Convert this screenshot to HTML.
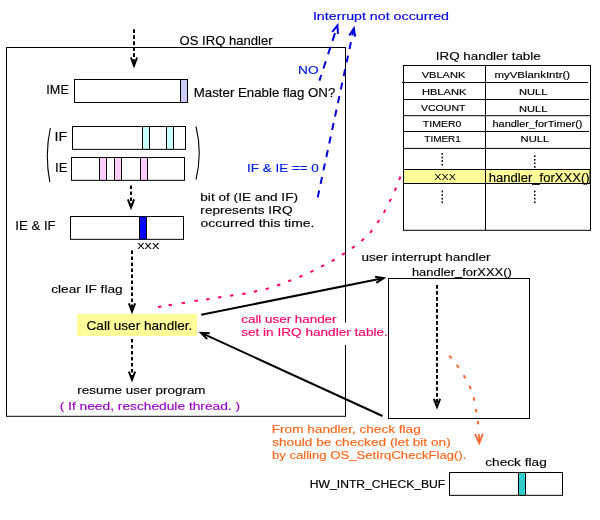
<!DOCTYPE html>
<html lang="en">
<head>
<meta charset="utf-8">
<title>OS IRQ handler</title>
<style>
html,body{margin:0;padding:0;background:#fff;}
body{width:600px;height:520px;overflow:hidden;}
svg{display:block;}
text{font-family:"Liberation Sans",sans-serif;font-size:12.5px;color:#000;fill:currentColor;stroke:currentColor;stroke-width:.15px;}
.thin{stroke:none;}
.blue{color:#0000e0;}
.blue2{color:#0020e0;}
.pink{color:#ff0066;}
.org{color:#ff6619;}
.pur{color:#9900c4;}
.box{fill:#fff;stroke:#000;stroke-width:1;}
.ln{stroke:#000;stroke-width:1;fill:none;}
.par{stroke:#000;stroke-width:1.1;fill:none;}
.dash{stroke:#000;stroke-width:2;fill:none;stroke-dasharray:3.6 2.4;}
.hd{stroke:#000;stroke-width:2;fill:none;stroke-linejoin:miter;stroke-miterlimit:10;}
.sol{stroke:#000;stroke-width:2;fill:none;}
.bdash{stroke:#0000d8;stroke-width:2;fill:none;}
.bhd{stroke:#0000d8;stroke-width:2;fill:none;stroke-linejoin:miter;stroke-miterlimit:10;}
.pdot{stroke:#ff0066;stroke-width:2;fill:none;}
.odot{stroke:#ff6633;stroke-width:2;fill:none;}
.ohd{stroke:#ff6633;stroke-width:1.8;fill:none;stroke-linejoin:miter;stroke-miterlimit:10;}
</style>
</head>
<body>
<svg width="600" height="520" viewBox="0 0 600 520">
<rect width="600" height="520" fill="#fff"/>

<!-- OS IRQ handler frame -->
<rect class="box" x="6.5" y="47.5" width="339" height="368.8"/>
<text style="font-size:12.2px" x="179.62" y="45" textLength="92.95" lengthAdjust="spacingAndGlyphs">OS IRQ handler</text>
<!-- entry arrow -->
<line class="dash" x1="134" y1="29.3" x2="134" y2="64.8"/>
<polyline class="hd" points="130.89,57.50 134,65.61 137.11,57.50"/>
<!-- IME -->
<text style="font-size:12.2px" x="46.34" y="94" textLength="22.51" lengthAdjust="spacingAndGlyphs">IME</text>
<rect class="box" x="74.5" y="79.5" width="113" height="23"/>
<rect x="180.5" y="79.5" width="7" height="23" fill="#ccccff" stroke="#000"/>
<text style="font-size:12.2px" x="193.82" y="97" textLength="141.51" lengthAdjust="spacingAndGlyphs">Master Enable flag ON?</text>
<!-- IF / IE -->
<path class="par" d="M50.3,128 Q44.6,155 49.8,182"/>
<path class="par" d="M196,126.5 Q202.5,153 196,179.5"/>
<text style="font-size:12.2px" x="54.52" y="141" textLength="12.87" lengthAdjust="spacingAndGlyphs">IF</text>
<rect class="box" x="72.5" y="126.5" width="113" height="22.85"/>
<rect x="142.5" y="126.5" width="7" height="22.85" fill="#ccffff" stroke="#000"/>
<rect x="166.5" y="126.5" width="7" height="22.85" fill="#ccffff" stroke="#000"/>
<text style="font-size:12.2px" x="55" y="172" textLength="12.39" lengthAdjust="spacingAndGlyphs">IE</text>
<rect class="box" x="71.5" y="157.5" width="113" height="22.85"/>
<rect x="99.5" y="157.5" width="7" height="22.85" fill="#ffccff" stroke="#000"/>
<rect x="114.5" y="157.5" width="7" height="22.85" fill="#ffccff" stroke="#000"/>
<rect x="140.5" y="157.5" width="7" height="22.85" fill="#ffccff" stroke="#000"/>
<line class="dash" x1="131" y1="185.5" x2="131" y2="206.6"/>
<polyline class="hd" points="127.89,199.30 131,207.41 134.11,199.30"/>
<!-- IE & IF -->
<text style="font-size:12.2px" x="15.39" y="230" textLength="40.3" lengthAdjust="spacingAndGlyphs">IE &amp; IF</text>
<rect class="box" x="70.5" y="216.5" width="113" height="22.85"/>
<rect x="139.5" y="216.5" width="7" height="22.85" fill="#0000ff" stroke="#000"/>
<text class="thin" style="font-size:10.5px" x="137.22" y="249" textLength="22.05" lengthAdjust="spacingAndGlyphs">xxx</text>
<text style="font-size:11.6px" x="200.27" y="201" textLength="97.74" lengthAdjust="spacingAndGlyphs">bit of (IE and IF)</text>
<text style="font-size:11.6px" x="200.38" y="214" textLength="92.11" lengthAdjust="spacingAndGlyphs">represents IRQ</text>
<text style="font-size:11.6px" x="200.63" y="227" textLength="113.77" lengthAdjust="spacingAndGlyphs">occurred this time.</text>
<line class="dash" x1="132" y1="250.5" x2="132" y2="310.7"/>
<polyline class="hd" points="128.89,303.40 132,311.51 135.11,303.40"/>
<text style="font-size:11.6px" x="51.24" y="293" textLength="71.43" lengthAdjust="spacingAndGlyphs">clear IF flag</text>
<!-- Call user handler -->
<rect x="77" y="314" width="120" height="22" fill="#ffff99"/>
<text style="font-size:12.2px" x="86.55" y="330" textLength="105.85" lengthAdjust="spacingAndGlyphs">Call user handler.</text>
<line class="dash" x1="132" y1="339" x2="132" y2="379"/>
<polyline class="hd" points="128.89,371.70 132,379.81 135.11,371.70"/>
<text style="font-size:11.6px" x="77.39" y="394" textLength="128.14" lengthAdjust="spacingAndGlyphs">resume user program</text>
<text class="pur" style="font-size:11.6px" x="59.71" y="410" textLength="180.42" lengthAdjust="spacingAndGlyphs">( If need, reschedule thread. )</text>
<!-- blue -->
<text class="blue" style="font-size:11.6px" x="312.91" y="20" textLength="136.09" lengthAdjust="spacingAndGlyphs">Interrupt not occurred</text>
<text class="blue2" style="font-size:11.6px" x="298" y="74" textLength="20.52" lengthAdjust="spacingAndGlyphs">NO</text>
<text class="blue2" style="font-size:11.6px" x="247" y="172" textLength="71.84" lengthAdjust="spacingAndGlyphs">IF &amp; IE == 0</text>
<line class="bdash" stroke-dasharray="5.9 6.9 7.6 7.4 7.7 6.3 8.2 100" x1="319.4" y1="80.6" x2="338.2" y2="23.4"/>
<polyline class="bhd" points="337.93,33.84 337.52,25.48 332.23,31.96"/>
<line class="bdash" stroke-dasharray="7 6.8" x1="317.7" y1="197.4" x2="354.3" y2="26.3"/>
<polyline class="bhd" points="355.14,36.71 353.84,28.44 349.28,35.45"/>
<!-- table -->
<text style="font-size:11.6px" x="435.78" y="60" textLength="104.98" lengthAdjust="spacingAndGlyphs">IRQ handler table</text>
<rect class="box" x="403.5" y="65.5" width="187" height="164.8"/>
<line class="ln" x1="485.5" y1="65.5" x2="485.5" y2="230"/>
<line class="ln" x1="402" y1="82.5" x2="588" y2="82.5"/>
<line class="ln" x1="403.5" y1="99.5" x2="589" y2="99.5"/>
<line class="ln" x1="403.5" y1="115.7" x2="590" y2="115.7"/>
<line class="ln" x1="403.5" y1="131.5" x2="589" y2="131.5"/>
<line class="ln" x1="403.5" y1="148.4" x2="590" y2="148.4"/>
<rect x="403.5" y="169.5" width="186.5" height="14" fill="#ffff99" stroke="#000" stroke-width="1"/>
<line class="ln" x1="485.5" y1="169.5" x2="485.5" y2="183.5"/>
<text style="font-size:9px" x="421.68" y="78" textLength="43.72" lengthAdjust="spacingAndGlyphs">VBLANK</text>
<text style="font-size:9px" x="494.54" y="78" textLength="75.51" lengthAdjust="spacingAndGlyphs">myVBlankIntr()</text>
<text style="font-size:9px" x="421.9" y="95" textLength="44.53" lengthAdjust="spacingAndGlyphs">HBLANK</text>
<text style="font-size:9px" x="518.92" y="95" textLength="28.42" lengthAdjust="spacingAndGlyphs">NULL</text>
<text style="font-size:9px" x="420.98" y="111" textLength="44.47" lengthAdjust="spacingAndGlyphs">VCOUNT</text>
<text style="font-size:9px" x="518.92" y="112" textLength="28.42" lengthAdjust="spacingAndGlyphs">NULL</text>
<text style="font-size:9px" x="422.8" y="127" textLength="38.54" lengthAdjust="spacingAndGlyphs">TIMER0</text>
<text style="font-size:9px" x="492.55" y="127" textLength="89.9" lengthAdjust="spacingAndGlyphs">handler_forTimer()</text>
<text style="font-size:9px" x="424.3" y="142" textLength="36.59" lengthAdjust="spacingAndGlyphs">TIMER1</text>
<text style="font-size:9px" x="520.54" y="142" textLength="28.7" lengthAdjust="spacingAndGlyphs">NULL</text>
<text class="thin" style="font-size:9px" x="434.17" y="180" textLength="21.73" lengthAdjust="spacingAndGlyphs">XXX</text>
<text style="font-size:12.2px" x="488.86" y="182" textLength="100.76" lengthAdjust="spacingAndGlyphs">handler_forXXX()</text>
<g fill="#000">
<rect x="441.5" y="153" width="1.5" height="1.7"/>
<rect x="441.5" y="156.6" width="1.5" height="1.7"/>
<rect x="441.5" y="160.2" width="1.5" height="1.7"/>
<rect x="441.5" y="163.8" width="1.5" height="1.7"/>
<rect x="534" y="155.3" width="1.5" height="1.7"/>
<rect x="534" y="158.9" width="1.5" height="1.7"/>
<rect x="534" y="162.5" width="1.5" height="1.7"/>
<rect x="534" y="166.1" width="1.5" height="1.7"/>
<rect x="441.5" y="190.6" width="1.5" height="1.7"/>
<rect x="441.5" y="194.2" width="1.5" height="1.7"/>
<rect x="441.5" y="197.8" width="1.5" height="1.7"/>
<rect x="441.5" y="201.4" width="1.5" height="1.7"/>
<rect x="534" y="190.6" width="1.5" height="1.7"/>
<rect x="534" y="194.2" width="1.5" height="1.7"/>
<rect x="534" y="197.8" width="1.5" height="1.7"/>
<rect x="534" y="201.4" width="1.5" height="1.7"/>
</g>
<!-- pink dotted curve -->
<line class="pdot" x1="400.44" y1="176.72" x2="399.16" y2="179.88"/>
<line class="pdot" x1="396.08" y1="187.64" x2="394.72" y2="190.76"/>
<line class="pdot" x1="390.95" y1="198.87" x2="389.45" y2="201.93"/>
<line class="pdot" x1="385.44" y1="209.82" x2="383.76" y2="212.78"/>
<line class="pdot" x1="379.24" y1="220.08" x2="377.36" y2="222.92"/>
<line class="pdot" x1="372.3" y1="230.21" x2="370.1" y2="232.79"/>
<line class="pdot" x1="363.97" y1="238.68" x2="361.43" y2="240.92"/>
<line class="pdot" x1="354.67" y1="246.29" x2="351.93" y2="248.31"/>
<line class="pdot" x1="344.92" y1="253.07" x2="342.08" y2="254.93"/>
<line class="pdot" x1="334.68" y1="259.56" x2="331.72" y2="261.24"/>
<line class="pdot" x1="324.11" y1="265.02" x2="321.09" y2="266.58"/>
<line class="pdot" x1="313.53" y1="270.56" x2="310.47" y2="272.04"/>
<line class="pdot" x1="302.56" y1="275.63" x2="299.44" y2="276.97"/>
<line class="pdot" x1="291.28" y1="280.18" x2="288.12" y2="281.42"/>
<line class="pdot" x1="280.3" y1="284.44" x2="277.1" y2="285.56"/>
<line class="pdot" x1="268.84" y1="288.25" x2="265.56" y2="289.15"/>
<line class="pdot" x1="257.16" y1="290.94" x2="253.84" y2="291.66"/>
<line class="pdot" x1="245.57" y1="293.4" x2="242.23" y2="294"/>
<line class="pdot" x1="233.38" y1="295.25" x2="230.02" y2="295.75"/>
<line class="pdot" x1="221.38" y1="297.04" x2="218.02" y2="297.56"/>
<line class="pdot" x1="209.48" y1="298.95" x2="206.12" y2="299.45"/>
<line class="pdot" x1="197.88" y1="300.54" x2="194.52" y2="301.06"/>
<line class="pdot" x1="184.98" y1="302.73" x2="181.62" y2="303.27"/>
<line class="pdot" x1="171.98" y1="304.74" x2="168.62" y2="305.26"/>
<line class="pdot" x1="161.38" y1="306.43" x2="158.02" y2="306.97"/>
<!-- pink text -->
<rect x="240" y="322.5" width="147.5" height="22.5" fill="#fff"/>
<text class="pink" style="font-size:11.6px" x="241.26" y="323" textLength="95.26" lengthAdjust="spacingAndGlyphs">call user hander</text>
<text class="pink" style="font-size:11.6px" x="241.18" y="336" textLength="146.7" lengthAdjust="spacingAndGlyphs">set in IRQ handler table.</text>
<!-- solid arrows -->
<line class="sol" x1="201.2" y1="314.7" x2="382.96" y2="278.29"/>
<polyline class="hd" points="376.32,282.83 383.75,278.13 375.08,276.65"/>
<line class="sol" x1="382.5" y1="416" x2="201.73" y2="333.15"/>
<polyline class="hd" points="209.77,333.37 200.99,332.81 207.14,339.10"/>
<!-- user interrupt handler -->
<text style="font-size:11.6px" x="361.44" y="261" textLength="129.05" lengthAdjust="spacingAndGlyphs">user interrupt handler</text>
<text style="font-size:11.6px" x="411.92" y="276" textLength="99.92" lengthAdjust="spacingAndGlyphs">handler_forXXX()</text>
<rect class="box" x="388.5" y="278.5" width="141" height="140"/>
<line class="dash" x1="437" y1="285.1" x2="437" y2="406.2"/>
<polyline class="hd" points="433.89,398.90 437,407.01 440.11,398.90"/>
<!-- orange -->
<line class="odot" x1="449.26" y1="355.7" x2="451.54" y2="358.5"/>
<line class="odot" x1="456.75" y1="364.74" x2="458.85" y2="367.66"/>
<line class="odot" x1="463.6" y1="375.14" x2="465.4" y2="378.26"/>
<line class="odot" x1="469.4" y1="385.74" x2="470.8" y2="389.06"/>
<line class="odot" x1="473.54" y1="397.36" x2="474.46" y2="400.84"/>
<line class="odot" x1="475.9" y1="408.83" x2="476.5" y2="412.37"/>
<line class="odot" x1="477.74" y1="420.92" x2="478.26" y2="424.48"/>
<polyline class="ohd" points="474.97,433.94 479.24,443.1 482.86,433.67"/>
<line class="ohd" x1="479" y1="434" x2="479.2" y2="443"/>
<text class="org" style="font-size:11.6px" x="271.79" y="433" textLength="148.92" lengthAdjust="spacingAndGlyphs">From handler, check flag</text>
<text class="org" style="font-size:11.6px" x="272.16" y="446" textLength="178.58" lengthAdjust="spacingAndGlyphs">should be checked (let bit on)</text>
<text class="org" style="font-size:11.6px" x="271.99" y="459" textLength="194.37" lengthAdjust="spacingAndGlyphs">by calling OS_SetIrqCheckFlag().</text>
<!-- check flag -->
<text style="font-size:11.6px" x="485.25" y="466" textLength="61.49" lengthAdjust="spacingAndGlyphs">check flag</text>
<text style="font-size:10px" x="309.89" y="488" textLength="135.37" lengthAdjust="spacingAndGlyphs">HW_INTR_CHECK_BUF</text>
<rect class="box" x="449.5" y="472.5" width="113" height="22.85"/>
<rect x="518.5" y="472.5" width="7" height="22.85" fill="#33cccc" stroke="#000"/>
</svg>
</body>
</html>
